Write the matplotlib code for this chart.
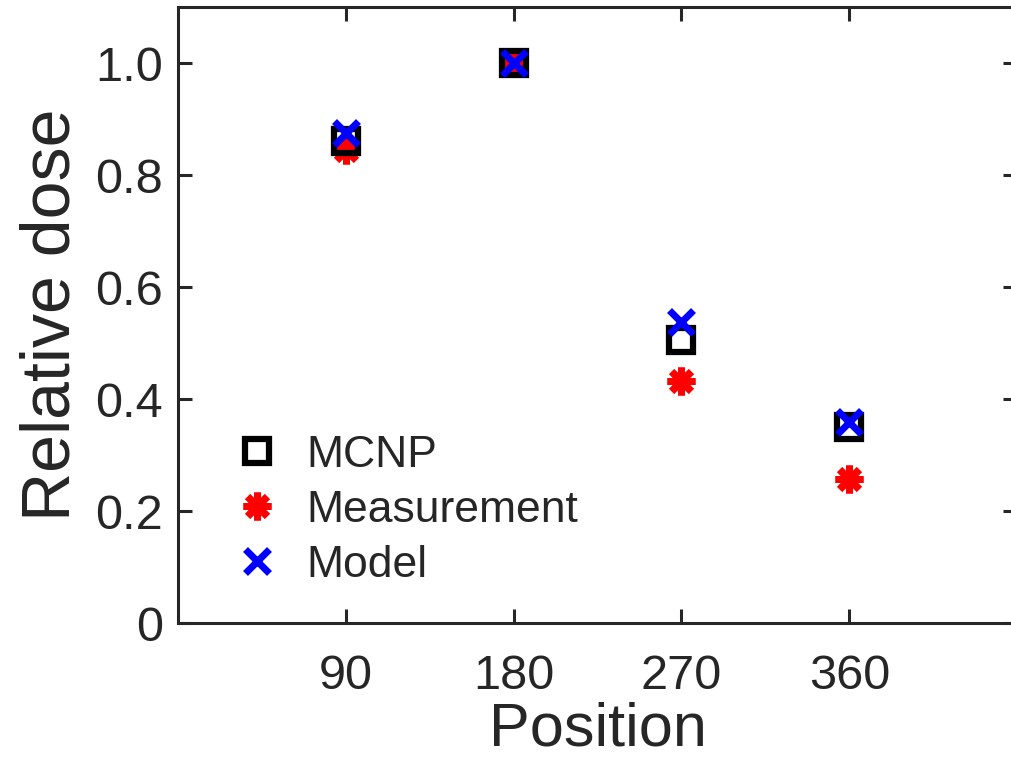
import matplotlib
matplotlib.use("Agg")
import matplotlib.pyplot as plt

plt.rcParams['font.family'] = ['Liberation Sans', 'DejaVu Sans']

positions = [90, 180, 270, 360]
mcnp = [0.86, 1.0, 0.505, 0.35]
measurement = [0.845, 1.0, 0.432, 0.258]
model = [0.875, 1.0, 0.537, 0.36]
xticks = [90, 180, 270, 360]
yticks = [0, 0.2, 0.4, 0.6, 0.8, 1.0]
ytick_labels = ['0', '0.2', '0.4', '0.6', '0.8', '1.0']

fig = plt.figure(figsize=(10.12, 7.77), dpi=100)
ax = fig.add_axes([0.1759, 0.198, 1.005 - 0.1759, 0.991 - 0.198])

asterisk = (8, 2, 0)
h_meas, = ax.plot(positions, measurement, linestyle='none', marker=asterisk,
                  markersize=20, markeredgewidth=5, color='#ff0000', zorder=2)
h_mcnp, = ax.plot(positions, mcnp, linestyle='none', marker='s', markersize=17.5,
                  markerfacecolor='none', markeredgecolor='black',
                  markeredgewidth=4.5, zorder=3)
h_model, = ax.plot(positions, model, linestyle='none', marker='x', markersize=17,
                   markeredgewidth=5, color='#0000ff', zorder=4)

ax.set_xlim(0, 450)
ax.set_ylim(0, 1.1)
ax.set_xticks(xticks)
ax.set_xticklabels([str(v) for v in xticks])
ax.set_yticks(yticks)
ax.set_yticklabels(ytick_labels)

ax.tick_params(direction='in', length=10, width=2.2, labelsize=35,
               top=True, right=True, colors='#262626')
ax.tick_params(axis='x', pad=22)
ax.tick_params(axis='y', pad=11)
for sp in ax.spines.values():
    sp.set_linewidth(2.2)
    sp.set_color('#262626')

ax.set_xlabel('Position', fontsize=44, color='#262626', labelpad=2)
ax.set_ylabel('Relative dose', fontsize=49, color='#262626', labelpad=8)

leg = ax.legend([h_mcnp, h_meas, h_model], ['MCNP', 'Measurement', 'Model'],
                loc='upper left', bbox_to_anchor=(0.047, 0.335), frameon=False,
                fontsize=32, handlelength=1.0, handletextpad=0.6,
                labelspacing=0.32, borderaxespad=0)
for t in leg.get_texts():
    t.set_color('#262626')

fig.savefig('out.png', dpi=100)
